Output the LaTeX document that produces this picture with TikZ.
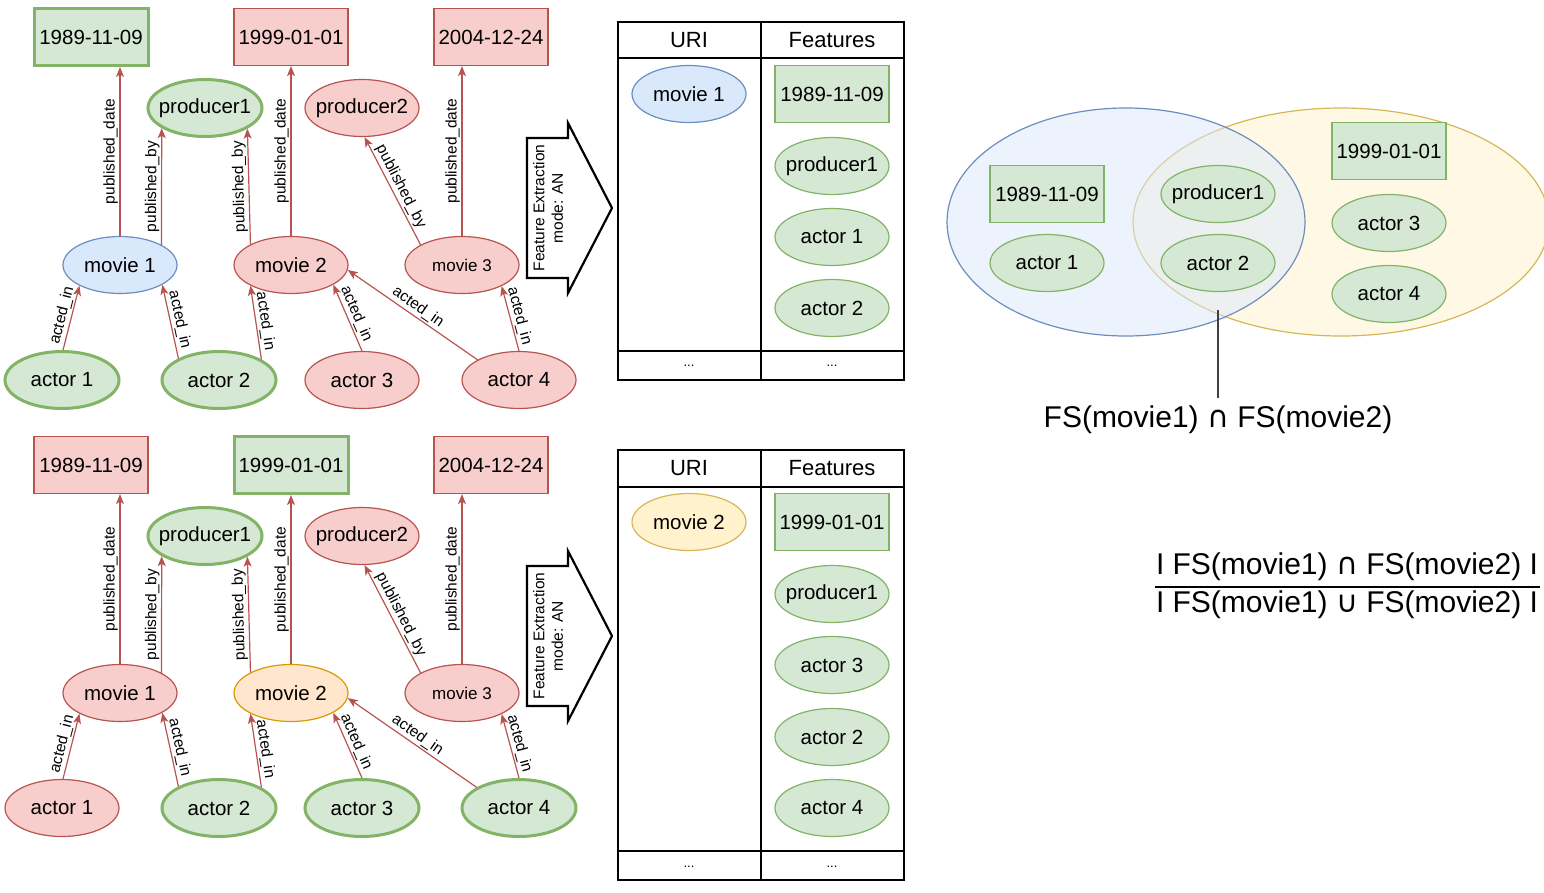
\documentclass[tikz,border=0pt]{standalone}
\usepackage{fontspec}
\setmainfont{Liberation Sans}
\newfontfamily\symfont{DejaVu Sans}
\usetikzlibrary{shapes.geometric}
\usetikzlibrary{calc}
\usetikzlibrary{arrows.meta}

\definecolor{gfill}{HTML}{D5E8D4}
\definecolor{gline}{HTML}{82B366}
\definecolor{rfill}{HTML}{F8CECC}
\definecolor{rline}{HTML}{B85450}
\definecolor{bfill}{HTML}{DAE8FC}
\definecolor{bline}{HTML}{6C8EBF}
\definecolor{yfill}{HTML}{FFF2CC}
\definecolor{yline}{HTML}{D6B656}
\definecolor{ofill}{HTML}{FFE6CC}
\definecolor{oline}{HTML}{D79B00}

\tikzset{
    ent/.style={ellipse, minimum width=114pt, minimum height=57pt, inner sep=0pt, font=\fontsize{20.5}{24}\selectfont,
        execute at begin node={\hbox to 0pt\bgroup\hss}, execute at end node={\hss\egroup}},
    lit/.style={rectangle, minimum width=114pt, minimum height=57pt, inner sep=0pt, font=\fontsize{20.5}{24}\selectfont},
    grn/.style={draw=gline, fill=gfill, line width=1.2pt},
    grnhi/.style={draw=gline, fill=gfill, line width=3pt},
    rd/.style={draw=rline, fill=rfill, line width=1.2pt},
    bl/.style={draw=bline, fill=bfill, line width=1.2pt},
    yl/.style={draw=yline, fill=yfill, line width=1.2pt},
    og/.style={draw=oline, fill=ofill, line width=1.2pt},
    rel/.style={draw=rline, line width=1.2pt, -{Stealth[length=10pt, width=8pt, inset=2.5pt]}},
    slab/.style={sloped, above, inner sep=1.5pt, font=\fontsize{15.5}{18}\selectfont},
    vlab/.style={rotate=90, anchor=south, inner sep=1.5pt, font=\fontsize{15.5}{18}\selectfont},
    hdr/.style={inner sep=0pt, font=\fontsize{22}{26}\selectfont},
    dotsep/.style={inner sep=0pt, font=\fontsize{13}{15}\selectfont},
    fex/.style={rotate=90, align=center, inner sep=0pt, font=\fontsize{15.5}{18.5}\selectfont},
    big/.style={inner sep=2pt, font=\fontsize{30}{34}\selectfont},
    blockarrow/.style={draw=black, line width=2.2pt, line join=miter}
}

\begin{document}
\begin{tikzpicture}[x=1pt,y=-1pt]
    \clip (0,0) rectangle (1544,892);

    \node[lit,grnhi] (D1) at (91,37) {1989-11-09};
    \node[lit,rd] (D2) at (291,37) {1999-01-01};
    \node[lit,rd] (D3) at (491,37) {2004-12-24};

    \node[ent,grnhi] (P1) at (205,108) {producer1};
    \node[ent,rd] (P2) at (362,108) {producer2};

    \node[ent,bl] (M1) at (120,265) {movie 1};
    \node[ent,rd] (M2) at (291,265) {movie 2};
    \node[ent,rd,font=\fontsize{17}{20}\selectfont] (M3) at (462,265) {movie 3};

    \node[ent,grnhi] (A1) at (62,380) {actor 1};
    \node[ent,grnhi] (A2) at (219,380) {actor 2};
    \node[ent,rd] (A3) at (362,380) {actor 3};
    \node[ent,rd] (A4) at (519,380) {actor 4};

    \draw[rel] (M1.north) -- node[vlab] {published\_date} (M1.north |- D1.south);
    \draw[rel] (M1.26) -- node[slab, allow upside down] {published\_by} (P1.205);
    \draw[rel] (M2.153) -- node[slab, allow upside down] {published\_by} (P1.-26);
    \draw[rel] (M2.north) -- node[vlab] {published\_date} (D2.south);
    \draw[rel] (M3.154) -- node[slab] {published\_by} (P2.-85);
    \draw[rel] (M3.north) -- node[vlab] {published\_date} (M3.north |- D3.south);

    \draw[rel] (A1.88) -- node[slab] {acted\_in} (M1.207);
    \draw[rel] (A2.152) -- node[slab] {acted\_in} (M1.-25);
    \draw[rel] (A2.26) -- node[slab] {acted\_in} (M2.207);
    \draw[rel] (A3.north) -- node[slab] {acted\_in} (M2.-25);
    \draw[rel] (A4.154) -- node[slab] {acted\_in} (M2.-5);
    \draw[rel] (A4.north) -- node[slab] {acted\_in} (M3.-28);

    \draw[blockarrow] (527,138) -- (568,138) -- (568,123) -- (612,208) -- (568,293) -- (568,278) -- (527,278) -- cycle;
    \node[fex] (FE1) at (548,208) {Feature Extraction\\mode: AN};

    \draw[line width=2.5pt] (618,22) rectangle (904,380);
    \draw[line width=2.5pt] (618,58) -- (904,58);
    \draw[line width=1.5pt] (761,22) -- (761,380);
    \draw[line width=1.5pt] (618,351) -- (904,351);
    \node[hdr] (U1) at (689,40) {URI};
    \node[hdr] (F1) at (832,40) {Features};
    \node[dotsep] (U1x) at (689,366) {...};
    \node[dotsep] (F1x) at (832,366) {...};

    \node[ent,bl] (T1) at (689,94) {movie 1};
    \node[lit,grn] (T2) at (832,94) {1989-11-09};
    \node[ent,grn] (T3) at (832,166) {producer1};
    \node[ent,grn] (T4) at (832,237) {actor 1};
    \node[ent,grn] (T5) at (832,308) {actor 2};

    \node[lit,rd] (D4) at (91,465) {1989-11-09};
    \node[lit,grnhi] (D5) at (291,465) {1999-01-01};
    \node[lit,rd] (D6) at (491,465) {2004-12-24};

    \node[ent,grnhi] (P3) at (205,536) {producer1};
    \node[ent,rd] (P4) at (362,536) {producer2};

    \node[ent,rd] (M4) at (120,693) {movie 1};
    \node[ent,og] (M5) at (291,693) {movie 2};
    \node[ent,rd,font=\fontsize{17}{20}\selectfont] (M6) at (462,693) {movie 3};

    \node[ent,rd] (A5) at (62,808) {actor 1};
    \node[ent,grnhi] (A6) at (219,808) {actor 2};
    \node[ent,grnhi] (A7) at (362,808) {actor 3};
    \node[ent,grnhi] (A8) at (519,808) {actor 4};

    \draw[rel] (M4.north) -- node[vlab] {published\_date} (M4.north |- D4.south);
    \draw[rel] (M4.26) -- node[slab, allow upside down] {published\_by} (P3.205);
    \draw[rel] (M5.153) -- node[slab, allow upside down] {published\_by} (P3.-26);
    \draw[rel] (M5.north) -- node[vlab] {published\_date} (D5.south);
    \draw[rel] (M6.154) -- node[slab] {published\_by} (P4.-85);
    \draw[rel] (M6.north) -- node[vlab] {published\_date} (M6.north |- D6.south);

    \draw[rel] (A5.88) -- node[slab] {acted\_in} (M4.207);
    \draw[rel] (A6.152) -- node[slab] {acted\_in} (M4.-25);
    \draw[rel] (A6.26) -- node[slab] {acted\_in} (M5.207);
    \draw[rel] (A7.north) -- node[slab] {acted\_in} (M5.-25);
    \draw[rel] (A8.154) -- node[slab] {acted\_in} (M5.-5);
    \draw[rel] (A8.north) -- node[slab] {acted\_in} (M6.-28);

    \draw[blockarrow] (527,566) -- (568,566) -- (568,551) -- (612,636) -- (568,721) -- (568,706) -- (527,706) -- cycle;
    \node[fex] (FE2) at (548,636) {Feature Extraction\\mode: AN};

    \draw[line width=2.5pt] (618,450) rectangle (904,880);
    \draw[line width=2.5pt] (618,487) -- (904,487);
    \draw[line width=1.5pt] (761,450) -- (761,880);
    \draw[line width=1.5pt] (618,851) -- (904,851);
    \node[hdr] (U2) at (689,468) {URI};
    \node[hdr] (F2) at (832,468) {Features};
    \node[dotsep] (U2x) at (689,867) {...};
    \node[dotsep] (F2x) at (832,867) {...};

    \node[ent,yl] (T6) at (689,522) {movie 2};
    \node[lit,grn] (T7) at (832,522) {1999-01-01};
    \node[ent,grn] (T8) at (832,594) {producer1};
    \node[ent,grn] (T9) at (832,665) {actor 3};
    \node[ent,grn] (T10) at (832,737) {actor 2};
    \node[ent,grn] (T11) at (832,808) {actor 4};

    \node[ellipse, draw=yline, fill=yfill, fill opacity=0.5, line width=1.2pt, inner sep=0pt, minimum width=416pt, minimum height=228pt] (S2) at (1341,222) {};
    \node[ellipse, draw=bline, fill=bfill, fill opacity=0.5, line width=1.2pt, inner sep=0pt, minimum width=358pt, minimum height=228pt] (S1) at (1126,222) {};

    \node[lit,grn] (V1) at (1047,194) {1989-11-09};
    \node[ent,grn] (V2) at (1047,263) {actor 1};
    \node[ent,grn] (V3) at (1218,194) {producer1};
    \node[ent,grn] (V4) at (1218,263) {actor 2};
    \node[lit,grn] (V5) at (1389,151) {1999-01-01};
    \node[ent,grn] (V6) at (1389,223) {actor 3};
    \node[ent,grn] (V7) at (1389,294) {actor 4};

    \coordinate (I) at (1218,310);
    \node[big] (FS) at (1218,420) {FS(movie1) {\symfont ∩} FS(movie2)};
    \draw[line width=1.3pt, draw=black!75] (I) -- ($(FS.north)+(0,-6)$);

    \node[big] (N1) at (1347,567) {I FS(movie1) {\symfont ∩} FS(movie2) I};
    \node[big] (N2) at (1347,605) {I FS(movie1) {\symfont ∪} FS(movie2) I};
    \draw[line width=1.6pt] (1155,587) -- (1540,587);
\end{tikzpicture}
\end{document}
